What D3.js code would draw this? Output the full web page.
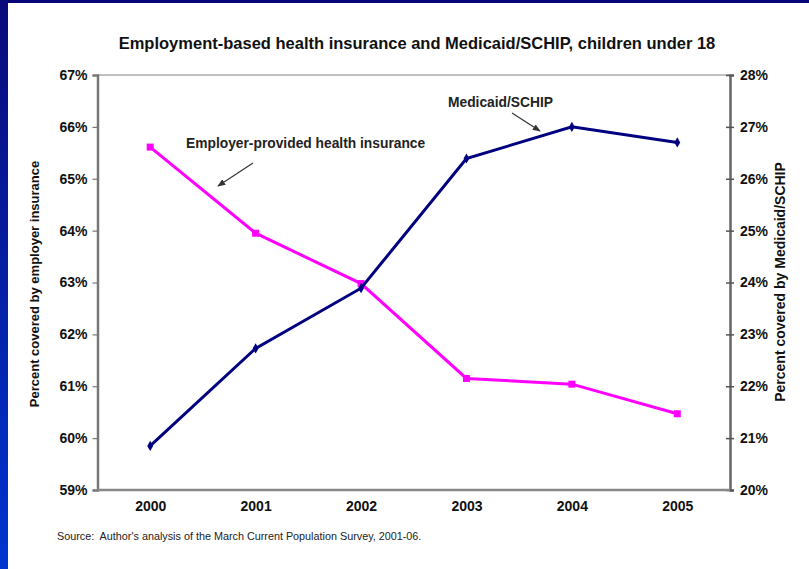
<!DOCTYPE html>
<html>
<head>
<meta charset="utf-8">
<script src="https://cdn.jsdelivr.net/npm/d3@7"></script>
<style>
html,body{margin:0;padding:0;background:#fff;}
svg{display:block;}
</style>
</head>
<body>
<svg id="chart" width="809" height="569"></svg>
<script>
const years = ["2000", "2001", "2002", "2003", "2004", "2005"];
const employer = [65.61, 63.95, 62.98, 61.15, 61.04, 60.47];
const medicaid = [20.85, 22.73, 23.89, 26.39, 27.00, 26.70];
const leftTicks = [59, 60, 61, 62, 63, 64, 65, 66, 67];
const rightTicks = [20, 21, 22, 23, 24, 25, 26, 27, 28];
const titleText = "Employment-based health insurance and Medicaid/SCHIP, children under 18";
const leftTitle = "Percent covered by employer insurance";
const rightTitle = "Percent covered by Medicaid/SCHIP";
const employerLabel = "Employer-provided health insurance";
const medicaidLabel = "Medicaid/SCHIP";
const sourceText = "Source:  Author's analysis of the March Current Population Survey, 2001-06.";

const svg = d3.select("#chart");
const font = "'Liberation Sans', Arial, sans-serif";

// frame
const defs = svg.append("defs");
const grad = defs.append("linearGradient").attr("id", "lg").attr("x1", 0).attr("y1", 0).attr("x2", 0).attr("y2", 1);
grad.append("stop").attr("offset", "0%").attr("stop-color", "#0a0a7a");
grad.append("stop").attr("offset", "100%").attr("stop-color", "#0035d0");
svg.append("rect").attr("x", 0).attr("y", 0).attr("width", 809).attr("height", 3).attr("fill", "#06067a");
svg.append("rect").attr("x", 0).attr("y", 0).attr("width", 8).attr("height", 569).attr("fill", "url(#lg)");

defs.append("marker").attr("id", "arr").attr("viewBox", "0 0 10 10")
  .attr("refX", 9).attr("refY", 5).attr("markerWidth", 8).attr("markerHeight", 8)
  .attr("orient", "auto").attr("markerUnits", "userSpaceOnUse")
  .append("path").attr("d", "M0,1 L10,5 L0,9 Z").attr("fill", "#333");

const x = d3.scalePoint().domain(years).range([97.5, 730]).padding(0.5);
const yL = d3.scaleLinear().domain([59, 67]).range([490, 75]);
const yR = d3.scaleLinear().domain([20, 28]).range([490, 75]);

// top border of plot
svg.append("line").attr("x1", 97.5).attr("x2", 730).attr("y1", 75).attr("y2", 75)
  .attr("stroke", "#aaa").attr("stroke-width", 1.5);

// left axis
const gL = svg.append("g").attr("transform", "translate(97.5,0)")
  .call(d3.axisLeft(yL).tickValues(leftTicks).tickFormat(d => d + "%").tickSize(5).tickPadding(5));
gL.select(".domain").attr("stroke", "#777").attr("stroke-width", 2.5);
gL.selectAll(".tick line").attr("stroke", "#777").attr("stroke-width", 1.2);
gL.selectAll("text").attr("font-family", font).attr("font-size", 14).attr("font-weight", "bold").attr("fill", "#111");

// right axis
const gR = svg.append("g").attr("transform", "translate(730,0)")
  .call(d3.axisRight(yR).tickValues(rightTicks).tickFormat(d => d + "%").tickSize(4).tickPadding(6));
gR.select(".domain").attr("stroke", "#666").attr("stroke-width", 2.5);
gR.selectAll(".tick line").attr("x1", -4).attr("x2", 4).attr("stroke", "#555").attr("stroke-width", 1.5);
gR.selectAll("text").attr("font-family", font).attr("font-size", 14).attr("font-weight", "bold").attr("fill", "#111");

// bottom axis
const gB = svg.append("g").attr("transform", "translate(0,490)")
  .call(d3.axisBottom(x).tickSize(0).tickPadding(11));
gB.select(".domain").attr("stroke", "#888").attr("stroke-width", 2.5).attr("d", "M97.5,0H730");
gB.selectAll("text").attr("font-family", font).attr("font-size", 14).attr("font-weight", "bold").attr("fill", "#111");

// lines
const lineL = d3.line().x((d, i) => x(years[i])).y(d => yL(d));
const lineR = d3.line().x((d, i) => x(years[i])).y(d => yR(d));

svg.append("path").datum(employer).attr("d", lineL).attr("fill", "none")
  .attr("stroke", "#ff00ff").attr("stroke-width", 3);
svg.selectAll(".sq").data(employer).enter().append("rect")
  .attr("x", (d, i) => x(years[i]) - 3.5).attr("y", d => yL(d) - 3.5)
  .attr("width", 7).attr("height", 7).attr("fill", "#ff00ff");

svg.append("path").datum(medicaid).attr("d", lineR).attr("fill", "none")
  .attr("stroke", "#000080").attr("stroke-width", 3);
svg.selectAll(".dm").data(medicaid).enter().append("path")
  .attr("d", d3.symbol().type(d3.symbolDiamond).size(30))
  .attr("transform", (d, i) => `translate(${x(years[i])},${yR(d)})`)
  .attr("fill", "#000080");

// title
svg.append("text").attr("x", 417).attr("y", 49).attr("text-anchor", "middle")
  .attr("font-family", font).attr("font-size", 16.5).attr("font-weight", "bold").attr("fill", "#111")
  .text(titleText);

// axis titles
svg.append("text").attr("transform", "translate(39,284) rotate(-90)").attr("text-anchor", "middle")
  .attr("font-family", font).attr("font-size", 13).attr("font-weight", "bold").attr("fill", "#111")
  .text(leftTitle);
svg.append("text").attr("transform", "translate(785,282) rotate(-90)").attr("text-anchor", "middle")
  .attr("font-family", font).attr("font-size", 14).attr("font-weight", "bold").attr("fill", "#111")
  .text(rightTitle);

// annotations
svg.append("text").attr("x", 186).attr("y", 148)
  .attr("font-family", font).attr("font-size", 13.8).attr("font-weight", "bold").attr("fill", "#222")
  .text(employerLabel);
svg.append("line").attr("x1", 253).attr("y1", 163).attr("x2", 218).attr("y2", 186)
  .attr("stroke", "#333").attr("stroke-width", 1.2).attr("marker-end", "url(#arr)");

svg.append("text").attr("x", 448).attr("y", 107)
  .attr("font-family", font).attr("font-size", 13.8).attr("font-weight", "bold").attr("fill", "#222")
  .text(medicaidLabel);
svg.append("line").attr("x1", 512).attr("y1", 113).attr("x2", 540).attr("y2", 131)
  .attr("stroke", "#333").attr("stroke-width", 1.2).attr("marker-end", "url(#arr)");

// source
svg.append("text").attr("x", 57).attr("y", 540).style("white-space", "pre")
  .attr("font-family", font).attr("font-size", 10.8).attr("fill", "#222")
  .text(sourceText);
</script>
</body>
</html>
